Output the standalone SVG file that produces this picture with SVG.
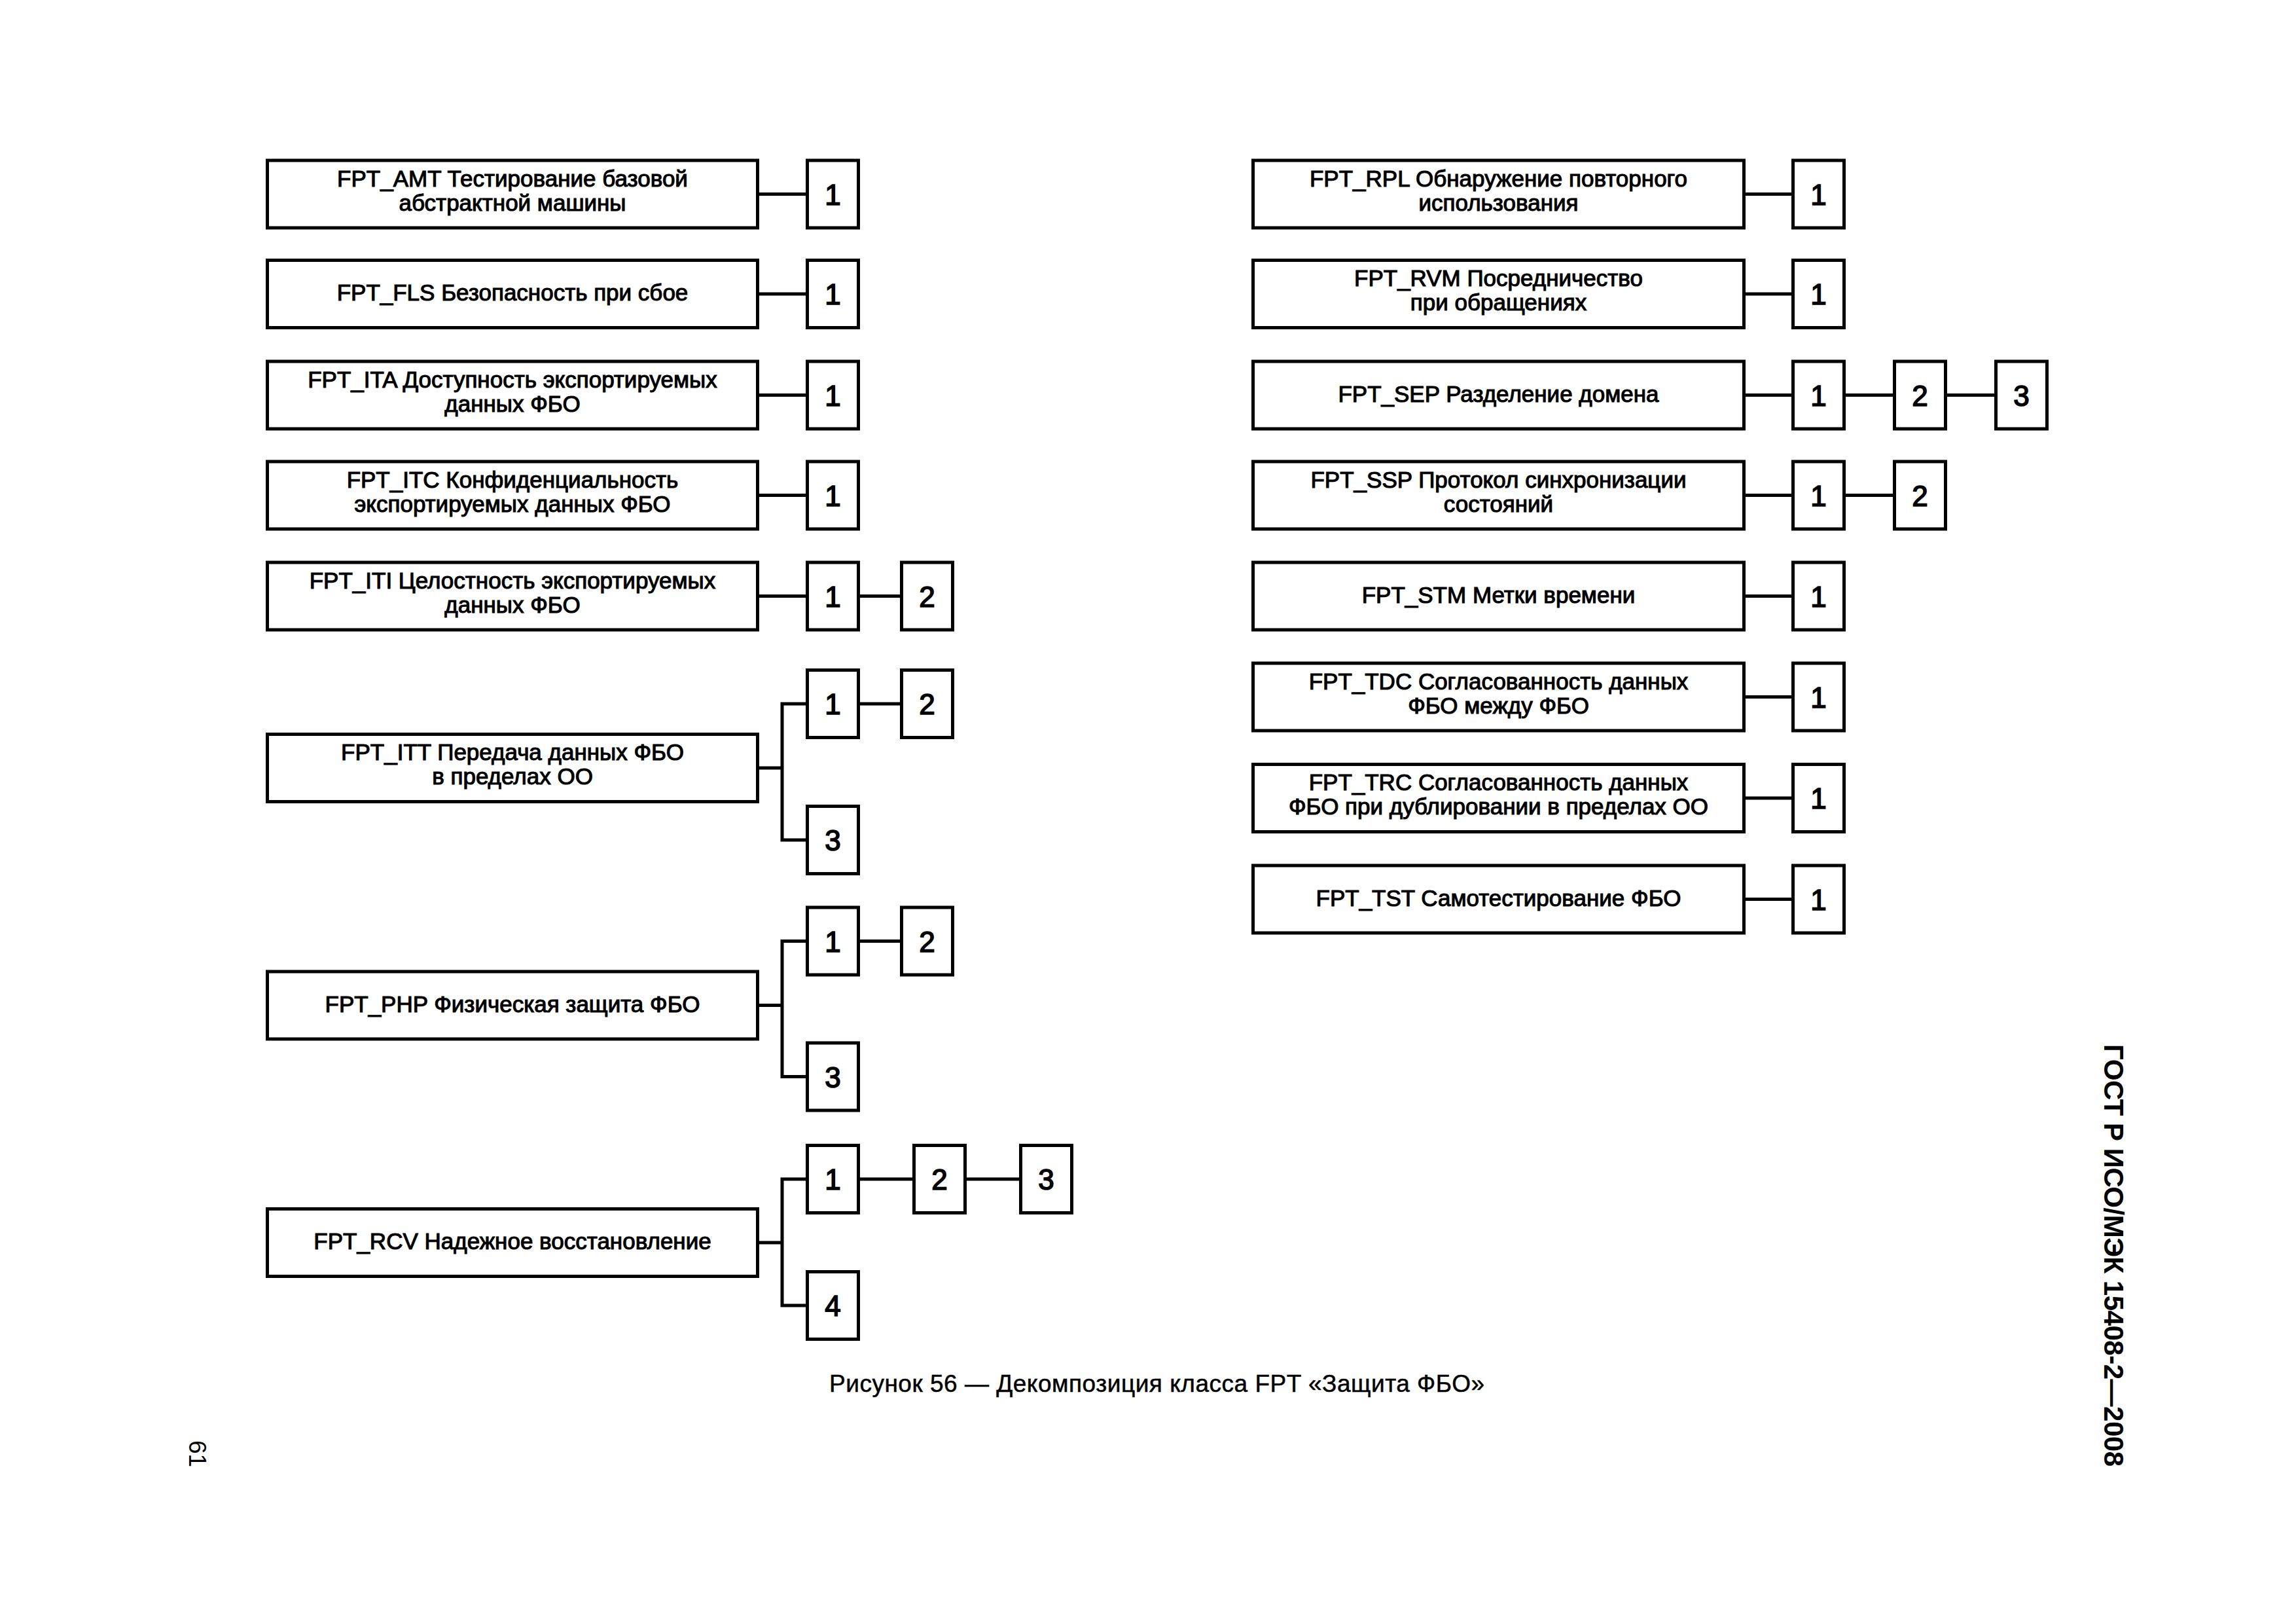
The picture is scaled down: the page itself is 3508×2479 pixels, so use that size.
<svg xmlns="http://www.w3.org/2000/svg" width="3508" height="2479" viewBox="0 0 3508 2479">
<style>
.b{fill:#fff;stroke:#000;stroke-width:5}
.c{fill:none;stroke:#000;stroke-width:5}
.t{font-family:"Liberation Sans",Arial,sans-serif;font-size:35px;text-anchor:middle;fill:#000;stroke:#000;stroke-width:1.1}
.n{font-family:"Liberation Sans",Arial,sans-serif;font-size:44px;text-anchor:middle;fill:#000;stroke:#000;stroke-width:1.6}
.cap{font-family:"Liberation Sans",Arial,sans-serif;font-size:37px;fill:#000;stroke:#000;stroke-width:0.5}
.hdr{font-family:"Liberation Sans",Arial,sans-serif;font-size:42px;font-weight:bold;fill:#000}
.pg{font-family:"Liberation Sans",Arial,sans-serif;font-size:37px;fill:#000}
</style>
<rect width="3508" height="2479" fill="#fff"/>
<g id="connectors">
<path class="c" d="M1157.5 296.5H1233.5M1157.5 449H1233.5M1157.5 603.5H1233.5M1157.5 756.5H1233.5M1157.5 910.5H1233.5M1311.5 910.5H1377.5"/>
<path class="c" d="M1157.5 1173H1195M1233.5 1075H1195V1283H1233.5M1311.5 1075H1377.5"/>
<path class="c" d="M1157.5 1535.5H1195M1233.5 1437.5H1195V1644.5H1233.5M1311.5 1437.5H1377.5"/>
<path class="c" d="M1157.5 1898H1195M1233.5 1801H1195V1994H1233.5M1311.5 1801H1396.5M1474.5 1801H1559.5"/>
<path class="c" d="M2664.5 296.5H2739.5M2664.5 449H2739.5M2664.5 603.5H2739.5M2817.5 603.5H2894.5M2972.5 603.5H3049.5M2664.5 756.5H2739.5M2817.5 756.5H2894.5M2664.5 910.5H2739.5M2664.5 1064.5H2739.5M2664.5 1219H2739.5M2664.5 1373.5H2739.5"/>
</g>
<g id="fpt_amt"><rect class="b" x="408.5" y="245" width="749" height="103"/><text class="t" x="783" y="284.5">FPT_AMT Тестирование базовой</text><text class="t" x="783" y="321.5">абстрактной машины</text></g>
<g id="fpt_amt_1"><rect class="b" x="1233.5" y="245" width="78" height="103"/><text class="n" x="1272.5" y="312.5">1</text></g>
<g id="fpt_fls"><rect class="b" x="408.5" y="397.5" width="749" height="103"/><text class="t" x="783" y="459">FPT_FLS Безопасность при сбое</text></g>
<g id="fpt_fls_1"><rect class="b" x="1233.5" y="397.5" width="78" height="103"/><text class="n" x="1272.5" y="465">1</text></g>
<g id="fpt_ita"><rect class="b" x="408.5" y="552" width="749" height="103"/><text class="t" x="783" y="591.5">FPT_ITA Доступность экспортируемых</text><text class="t" x="783" y="628.5">данных ФБО</text></g>
<g id="fpt_ita_1"><rect class="b" x="1233.5" y="552" width="78" height="103"/><text class="n" x="1272.5" y="619.5">1</text></g>
<g id="fpt_itc"><rect class="b" x="408.5" y="705" width="749" height="103"/><text class="t" x="783" y="744.5">FPT_ITC Конфиденциальность</text><text class="t" x="783" y="781.5">экспортируемых данных ФБО</text></g>
<g id="fpt_itc_1"><rect class="b" x="1233.5" y="705" width="78" height="103"/><text class="n" x="1272.5" y="772.5">1</text></g>
<g id="fpt_iti"><rect class="b" x="408.5" y="859" width="749" height="103"/><text class="t" x="783" y="898.5">FPT_ITI Целостность экспортируемых</text><text class="t" x="783" y="935.5">данных ФБО</text></g>
<g id="fpt_iti_1"><rect class="b" x="1233.5" y="859" width="78" height="103"/><text class="n" x="1272.5" y="926.5">1</text></g>
<g id="fpt_iti_2"><rect class="b" x="1377.5" y="859" width="78" height="103"/><text class="n" x="1416.5" y="926.5">2</text></g>
<g id="fpt_itt"><rect class="b" x="408.5" y="1121.5" width="749" height="103"/><text class="t" x="783" y="1161">FPT_ITT Передача данных ФБО</text><text class="t" x="783" y="1198">в пределах ОО</text></g>
<g id="fpt_itt_1"><rect class="b" x="1233.5" y="1023.5" width="78" height="103"/><text class="n" x="1272.5" y="1091">1</text></g>
<g id="fpt_itt_2"><rect class="b" x="1377.5" y="1023.5" width="78" height="103"/><text class="n" x="1416.5" y="1091">2</text></g>
<g id="fpt_itt_3"><rect class="b" x="1233.5" y="1231.5" width="78" height="103"/><text class="n" x="1272.5" y="1299">3</text></g>
<g id="fpt_php"><rect class="b" x="408.5" y="1484" width="749" height="103"/><text class="t" x="783" y="1545.5">FPT_PHP Физическая защита ФБО</text></g>
<g id="fpt_php_1"><rect class="b" x="1233.5" y="1386" width="78" height="103"/><text class="n" x="1272.5" y="1453.5">1</text></g>
<g id="fpt_php_2"><rect class="b" x="1377.5" y="1386" width="78" height="103"/><text class="n" x="1416.5" y="1453.5">2</text></g>
<g id="fpt_php_3"><rect class="b" x="1233.5" y="1593" width="78" height="103"/><text class="n" x="1272.5" y="1660.5">3</text></g>
<g id="fpt_rcv"><rect class="b" x="408.5" y="1846.5" width="749" height="103"/><text class="t" x="783" y="1908">FPT_RCV Надежное восстановление</text></g>
<g id="fpt_rcv_1"><rect class="b" x="1233.5" y="1749.5" width="78" height="103"/><text class="n" x="1272.5" y="1817">1</text></g>
<g id="fpt_rcv_2"><rect class="b" x="1396.5" y="1749.5" width="78" height="103"/><text class="n" x="1435.5" y="1817">2</text></g>
<g id="fpt_rcv_3"><rect class="b" x="1559.5" y="1749.5" width="78" height="103"/><text class="n" x="1598.5" y="1817">3</text></g>
<g id="fpt_rcv_4"><rect class="b" x="1233.5" y="1942.5" width="78" height="103"/><text class="n" x="1272.5" y="2010">4</text></g>
<g id="fpt_rpl"><rect class="b" x="1914.5" y="245" width="750" height="103"/><text class="t" x="2289.5" y="284.5">FPT_RPL Обнаружение повторного</text><text class="t" x="2289.5" y="321.5">использования</text></g>
<g id="fpt_rpl_1"><rect class="b" x="2739.5" y="245" width="78" height="103"/><text class="n" x="2778.5" y="312.5">1</text></g>
<g id="fpt_rvm"><rect class="b" x="1914.5" y="397.5" width="750" height="103"/><text class="t" x="2289.5" y="437">FPT_RVM Посредничество</text><text class="t" x="2289.5" y="474">при обращениях</text></g>
<g id="fpt_rvm_1"><rect class="b" x="2739.5" y="397.5" width="78" height="103"/><text class="n" x="2778.5" y="465">1</text></g>
<g id="fpt_sep"><rect class="b" x="1914.5" y="552" width="750" height="103"/><text class="t" x="2289.5" y="613.5">FPT_SEP Разделение домена</text></g>
<g id="fpt_sep_1"><rect class="b" x="2739.5" y="552" width="78" height="103"/><text class="n" x="2778.5" y="619.5">1</text></g>
<g id="fpt_sep_2"><rect class="b" x="2894.5" y="552" width="78" height="103"/><text class="n" x="2933.5" y="619.5">2</text></g>
<g id="fpt_sep_3"><rect class="b" x="3049.5" y="552" width="78" height="103"/><text class="n" x="3088.5" y="619.5">3</text></g>
<g id="fpt_ssp"><rect class="b" x="1914.5" y="705" width="750" height="103"/><text class="t" x="2289.5" y="744.5">FPT_SSP Протокол синхронизации</text><text class="t" x="2289.5" y="781.5">состояний</text></g>
<g id="fpt_ssp_1"><rect class="b" x="2739.5" y="705" width="78" height="103"/><text class="n" x="2778.5" y="772.5">1</text></g>
<g id="fpt_ssp_2"><rect class="b" x="2894.5" y="705" width="78" height="103"/><text class="n" x="2933.5" y="772.5">2</text></g>
<g id="fpt_stm"><rect class="b" x="1914.5" y="859" width="750" height="103"/><text class="t" x="2289.5" y="920.5">FPT_STM Метки времени</text></g>
<g id="fpt_stm_1"><rect class="b" x="2739.5" y="859" width="78" height="103"/><text class="n" x="2778.5" y="926.5">1</text></g>
<g id="fpt_tdc"><rect class="b" x="1914.5" y="1013" width="750" height="103"/><text class="t" x="2289.5" y="1052.5">FPT_TDC Согласованность данных</text><text class="t" x="2289.5" y="1089.5">ФБО между ФБО</text></g>
<g id="fpt_tdc_1"><rect class="b" x="2739.5" y="1013" width="78" height="103"/><text class="n" x="2778.5" y="1080.5">1</text></g>
<g id="fpt_trc"><rect class="b" x="1914.5" y="1167.5" width="750" height="103"/><text class="t" x="2289.5" y="1207">FPT_TRC Согласованность данных</text><text class="t" x="2289.5" y="1244">ФБО при дублировании в пределах ОО</text></g>
<g id="fpt_trc_1"><rect class="b" x="2739.5" y="1167.5" width="78" height="103"/><text class="n" x="2778.5" y="1235">1</text></g>
<g id="fpt_tst"><rect class="b" x="1914.5" y="1322" width="750" height="103"/><text class="t" x="2289.5" y="1383.5">FPT_TST Самотестирование ФБО</text></g>
<g id="fpt_tst_1"><rect class="b" x="2739.5" y="1322" width="78" height="103"/><text class="n" x="2778.5" y="1389.5">1</text></g>
<text class="cap" x="1267" y="2126" textLength="1001" lengthAdjust="spacing">Рисунок 56 — Декомпозиция класса FPT «Защита ФБО»</text>
<text class="hdr" transform="translate(3215,1595) rotate(90)" textLength="645" lengthAdjust="spacing">ГОСТ Р ИСО/МЭК 15408-2—2008</text>
<text class="pg" transform="translate(289,2200) rotate(90)">61</text>
</svg>
